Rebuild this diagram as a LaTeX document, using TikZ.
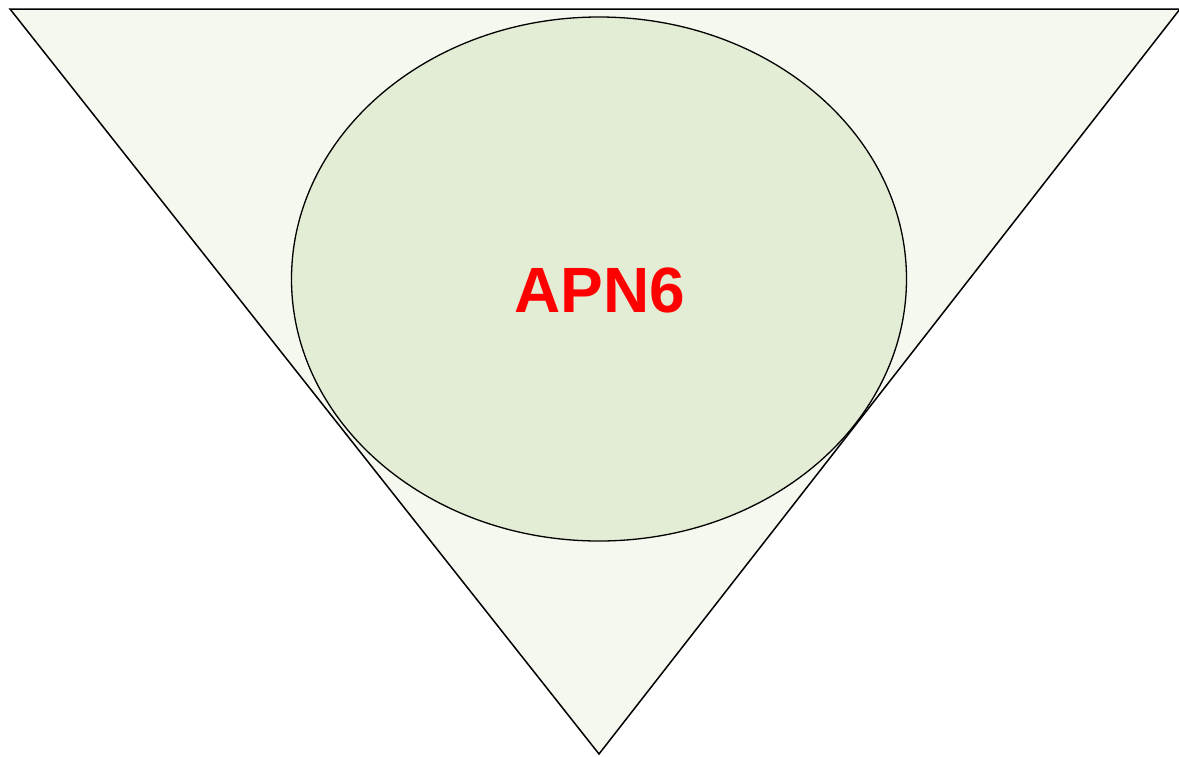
\documentclass[tikz,border=0pt]{standalone}
\usepackage{fontspec}
\setmainfont{Liberation Sans}
\definecolor{trifill}{HTML}{F5F8EE}
\definecolor{ellfill}{HTML}{E3ECD4}
\begin{document}
\begin{tikzpicture}[x=1pt,y=-1pt,
  outline/.style={draw=black,line width=1.5pt,line join=miter},
  label/.style={text=red,font=\fontsize{64}{64}\selectfont\bfseries,inner sep=0pt}]
\useasboundingbox (0,0) rectangle (1179,756);
\coordinate (tl) at (10,9);
\coordinate (tr) at (1180,9);
\coordinate (ap) at (599,754);
\filldraw[outline,fill=trifill] (tl) -- (tr) -- (ap) -- cycle;
\filldraw[outline,fill=ellfill,line width=1.3pt] (599,279) ellipse [x radius=307.5, y radius=262];
\node[label] (apn) at (600,290) {APN6};
\end{tikzpicture}
\end{document}
